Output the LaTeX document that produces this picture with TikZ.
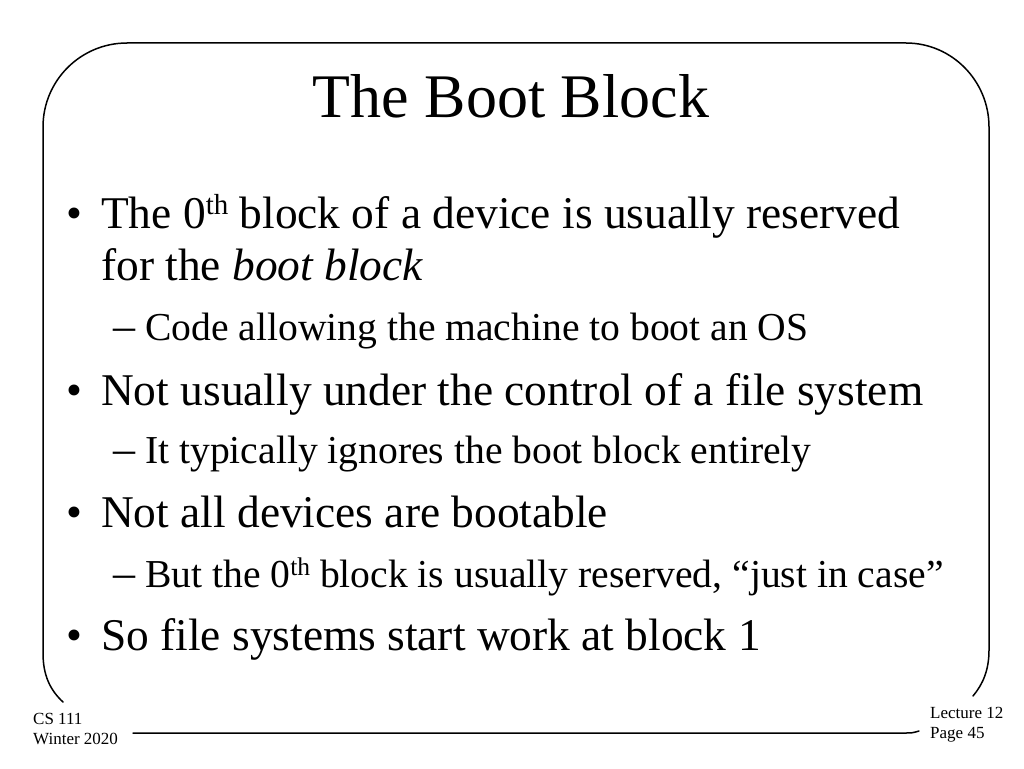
\documentclass[tikz,border=0pt]{standalone}
\usepackage{fontspec}
\setmainfont{Liberation Serif}
\newcommand{\supth}[1]{\raisebox{0.3em}{\fontsize{#1}{#1}\selectfont th}}
\begin{document}
\begin{tikzpicture}[x=1pt,y=-1pt,
  txt/.style={inner sep=0pt, anchor=base west},
  main/.style={txt, font=\fontsize{45.4}{54}\selectfont},
  sub/.style={txt, font=\fontsize{39.6}{47}\selectfont},
  dashmark/.style={txt, font=\fontsize{44}{47}\selectfont},
  foot/.style={txt, font=\fontsize{17}{20}\selectfont},
  frameline/.style={line width=1.5pt, line cap=round}]
\useasboundingbox (0,0) rectangle (1024,768);
\fill[white] (0,0) rectangle (1024,768);
% frame
\draw[frameline] (63,702) .. controls (50,690) and (43,675) .. (43,653)
  -- (43,127) .. controls (43,80.6) and (80.6,43) .. (127,43)
  -- (906,43) .. controls (952,43) and (989,81) .. (989,127)
  -- (989,650) .. controls (989,670) and (983,684) .. (973,696);
\draw[frameline] (133,733) -- (905,733) .. controls (912,733) .. (919,731);
% title
\node[inner sep=0pt, anchor=base, font=\fontsize{62}{70}\selectfont] (title) at (511,117) {The Boot Block};
% bullets
\node[main] (b1) at (66,228) {•};
\node[main] (t1) at (101,228) {The 0\supth{29} block of a device is usually reserved};
\node[main] (t2) at (101,280) {for the \textit{boot block}};
\node[dashmark] (d1) at (113,340) {–};
\node[sub] (s1) at (145,340) {Code allowing the machine to boot an OS};
\node[main] (b2) at (66,405) {•};
\node[main] (t3) at (101,405) {Not usually under the control of a file system};
\node[dashmark] (d2) at (113,463) {–};
\node[sub] (s2) at (145,463) {It typically ignores the boot block entirely};
\node[main] (b3) at (66,527) {•};
\node[main] (t4) at (101,527) {Not all devices are bootable};
\node[dashmark] (d3) at (113,587) {–};
\node[sub] (s3) at (145,587) {But the 0\supth{25.5} block is usually reserved, “just in case”};
\node[main] (b4) at (66,650) {•};
\node[main] (t5) at (101,650) {So file systems start work at block 1};
% footer
\node[foot] (f1) at (33,724) {CS 111};
\node[foot] (f2) at (33,744) {Winter 2020};
\node[foot] (f3) at (930,718) {Lecture 12};
\node[foot] (f4) at (930,738) {Page 45};
\end{tikzpicture}
\end{document}
